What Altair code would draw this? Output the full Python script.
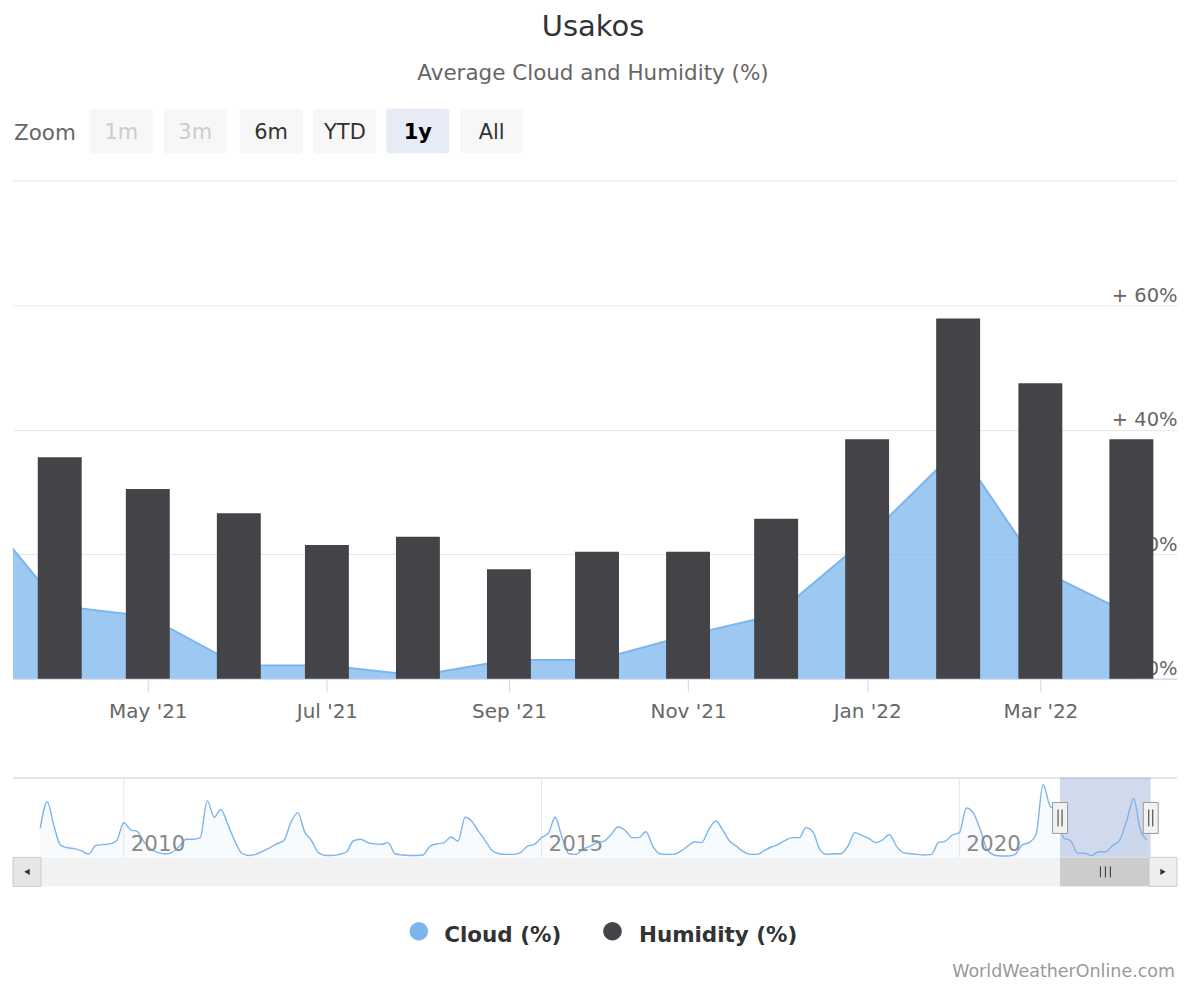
import altair as alt
import pandas as pd

# ---------------- data ----------------
first_month = "2009-01-01"
# monthly average cloud (%) Jan 2009 .. Apr 2022 (navigator + main area)
cloud_all = [
    18, 35, 20, 7, 5.5, 5, 3.5, 1.5, 7, 7.5, 8, 10,            # 2009
    21.5, 17, 16, 9, 4.5, 2.5, 1.5, 2.5, 6.5, 11, 11, 12,       # 2010
    35.5, 25, 30, 20.5, 10, 2, 0.6, 1.3, 3.4, 5.5, 8, 10,       # 2011
    21.5, 28, 16, 10, 2.4, 0.6, 0.6, 1.3, 3, 10, 11, 9,         # 2012
    8, 7.7, 8.8, 1.7, 0.9, 0.6, 0.6, 0.9, 6.6, 8, 8.8, 12.4,    # 2013
    9.8, 25, 22.6, 16, 9.8, 3.4, 1.7, 1.3, 1.3, 2.4, 6.6, 7.7,  # 2014
    12, 15, 25, 12, 1.7, 1.3, 4.5, 6.6, 8.8, 9.8, 14, 18.8,     # 2015
    16.7, 12, 12, 15.8, 6.6, 1.7, 1.3, 1.3, 3.4, 6.6, 9.4, 8.8, # 2016
    17.3, 22.6, 17.3, 10, 6.6, 3, 1.3, 1.3, 3.8, 6, 7.7, 10.3,  # 2017
    12, 12, 18.4, 15.8, 4.5, 1.3, 1.7, 1.7, 6.6, 15.2, 13.5, 11.5,  # 2018
    8.8, 10.7, 14, 6.6, 2.4, 1.7, 1.3, 0.9, 1.3, 8.8, 9.8, 13.7,    # 2019
    15.2, 31, 28, 17.3, 4.5, 0.9, 0.2, 0.2, 1.3, 7.3, 8.8, 14,      # 2020
    46, 32, 29.5, 11.7, 10, 2.1, 2.1, 0.5, 3, 3, 7, 10.3,           # 2021
    22.6, 37, 17.5, 10.3,                                           # 2022
]
humidity_months = ["2021-04-01", "2021-05-01", "2021-06-01", "2021-07-01",
                   "2021-08-01", "2021-09-01", "2021-10-01", "2021-11-01",
                   "2021-12-01", "2022-01-01", "2022-02-01", "2022-03-01",
                   "2022-04-01"]
humidity = [35.6, 30.5, 26.6, 21.5, 22.8, 17.6, 20.4, 20.4, 25.7, 38.5, 57.9, 47.5, 38.5]

main_first_month = "2021-03-01"
main_range = ["2021-03-16T02:00:00", "2022-04-16T13:00:00"]
nav_range = ["2008-09-04T00:00:00", "2022-08-09T05:00:00"]
x_tick_months = ["2021-05-01", "2021-07-01", "2021-09-01", "2021-11-01", "2022-01-01", "2022-03-01"]
y_ticks = [0, 20, 40, 60, 80]
nav_years = ["2010", "2015", "2020"]
zoom_buttons = ["1m", "3m", "6m", "YTD", "1y", "All"]
zoom_states = ["disabled", "disabled", "normal", "normal", "selected", "normal"]
legend_labels = ["Cloud (%)", "Humidity (%)"]
legend_colors = ["#7cb5ec", "#434348"]

# ---------------- helpers / layout ----------------
W, H = 1166, 971
FONT = "DejaVu Sans"


def ms(s):
    return int(pd.Timestamp(s).value // 10**6)


months_all = pd.date_range(first_month, periods=len(cloud_all), freq="MS")
cloud_df = pd.DataFrame({"t": [ms(d) for d in months_all], "cloud": cloud_all})
main_cloud_df = cloud_df[cloud_df["t"] >= ms(main_first_month)].reset_index(drop=True)
hum_df = pd.DataFrame({"t": [ms(m) for m in humidity_months], "humidity": humidity})
range_df = pd.DataFrame({"t0": [ms(main_range[0])], "t1": [ms(main_range[1])]})
edges_df = pd.DataFrame({"t": [ms(main_range[0]), ms(main_range[1])]})
mid_df = pd.DataFrame({"t": [(ms(main_range[0]) + ms(main_range[1])) // 2]})
years_df = pd.DataFrame({"t": [ms(y + "-01-01") for y in nav_years], "label": nav_years})
one = pd.DataFrame({"a": [0]})

main_x = alt.Scale(type="utc", domain=[ms(main_range[0]), ms(main_range[1])], range=[0, W],
                   nice=False, padding=0)
main_y = alt.Scale(domain=[0, 80], range=[671, 172.4], nice=False)
nav_x = alt.Scale(type="utc", domain=[ms(nav_range[0]), ms(nav_range[1])], range=[0, W],
                  nice=False, padding=0)
nav_y = alt.Scale(domain=[0, 46], range=[849, 777], nice=False)

layers = []

# title / subtitle
layers.append(alt.Chart(one).mark_text(text="Usakos", font=FONT, fontSize=29, color="#333333",
                                       align="center", baseline="alphabetic")
              .encode(x=alt.value(581), y=alt.value(27)))
layers.append(alt.Chart(one).mark_text(text="Average Cloud and Humidity (%)", font=FONT, fontSize=21.5,
                                       color="#666666", align="center", baseline="alphabetic")
              .encode(x=alt.value(581), y=alt.value(71)))

# range selector
layers.append(alt.Chart(one).mark_text(text="Zoom", font=FONT, fontSize=21.5, color="#666666",
                                       align="left", baseline="alphabetic")
              .encode(x=alt.value(1), y=alt.value(131)))
btn_left = [77, 151, 227, 301, 374, 448]
fills = {"disabled": "#f7f7f7", "normal": "#f7f7f7", "selected": "#e6ebf5"}
tcols = {"disabled": "#cccccc", "normal": "#333333", "selected": "#000000"}
btn_df = pd.DataFrame({
    "label": zoom_buttons,
    "state": zoom_states,
    "bx": btn_left,
    "bx2": [b + 63 for b in btn_left],
    "bc": [b + 31.5 for b in btn_left],
    "fill": [fills[s] for s in zoom_states],
    "tcol": [tcols[s] for s in zoom_states],
})
layers.append(alt.Chart(btn_df).mark_rect(cornerRadius=3)
              .encode(x=alt.X("bx:Q", scale=None), x2="bx2:Q",
                      y=alt.value(100), y2=alt.value(145),
                      fill=alt.Fill("fill:N", scale=None)))
layers.append(alt.Chart(btn_df).transform_filter("datum.state != 'selected'")
              .mark_text(font=FONT, fontSize=21, align="center", baseline="alphabetic")
              .encode(x=alt.X("bc:Q", scale=None), y=alt.value(130), text="label:N",
                      color=alt.Color("tcol:N", scale=None)))
layers.append(alt.Chart(btn_df).transform_filter("datum.state == 'selected'")
              .mark_text(font=FONT, fontSize=21, fontWeight="bold", align="center", baseline="alphabetic")
              .encode(x=alt.X("bc:Q", scale=None), y=alt.value(130), text="label:N",
                      color=alt.Color("tcol:N", scale=None)))

# main chart
x_axis = alt.Axis(orient="bottom", offset=-300, values=[ms(m) for m in x_tick_months],
                  labelExpr="utcFormat(datum.value, \"%b '%y\")", title=None, grid=False,
                  tickSize=13, tickColor="#ccd6eb", domainColor="#ccd6eb",
                  labelPadding=10, labelBaseline="top", labelFont=FONT, labelFontSize=20,
                  labelColor="#666666")
y_axis = alt.Axis(orient="right", values=y_ticks, title=None, grid=True, gridColor="#e6e6e6",
                  domain=False, ticks=False, tickSize=0, labelPadding=0, labelAlign="right",
                  labelBaseline="alphabetic", labelOffset=-4, labelFont=FONT, labelFontSize=19.5,
                  labelColor="#666666",
                  labelExpr="datum.value >= 80 ? '' : (datum.value > 0 ? '+ ' + datum.value + '%' : datum.value + '%')")

layers.append(alt.Chart(main_cloud_df).mark_area(color="#7cb5ec", fillOpacity=0.75, clip=True)
              .encode(x=alt.X("t:T", scale=main_x, axis=None), y=alt.Y("cloud:Q", scale=main_y, axis=None)))
layers.append(alt.Chart(main_cloud_df).mark_line(color="#7cb5ec", strokeWidth=2, clip=True)
              .encode(x=alt.X("t:T", scale=main_x, axis=None), y=alt.Y("cloud:Q", scale=main_y, axis=None)))
layers.append(alt.Chart(hum_df).mark_bar(color="#434348", size=44, clip=True)
              .encode(x=alt.X("t:T", scale=main_x, axis=x_axis),
                      y=alt.Y("humidity:Q", scale=main_y, axis=y_axis)))

# navigator
layers.append(alt.Chart(one).mark_rule(color="#cccccc", strokeWidth=1)
              .encode(x=alt.value(0), x2=alt.value(W), y=alt.value(770.5)))
layers.append(alt.Chart(years_df).mark_rule(color="#e6e6e6", strokeWidth=1)
              .encode(x=alt.X("t:T", scale=nav_x, axis=None), y=alt.value(771), y2=alt.value(850)))
layers.append(alt.Chart(range_df).mark_rect(fill="#6685c2", fillOpacity=0.3)
              .encode(x=alt.X("t0:T", scale=nav_x, axis=None), x2="t1:T",
                      y=alt.value(770), y2=alt.value(850)))
layers.append(alt.Chart(cloud_df).mark_area(color="#7cb5ec", fillOpacity=0.05, interpolate="monotone")
              .encode(x=alt.X("t:T", scale=nav_x, axis=None), y=alt.Y("cloud:Q", scale=nav_y, axis=None)))
layers.append(alt.Chart(cloud_df).mark_line(color="#7cb5ec", strokeWidth=1.4, interpolate="monotone")
              .encode(x=alt.X("t:T", scale=nav_x, axis=None), y=alt.Y("cloud:Q", scale=nav_y, axis=None)))
layers.append(alt.Chart(years_df).mark_text(font=FONT, fontSize=21.5, color="#8a8a8a", align="left",
                                            baseline="alphabetic", dx=7)
              .encode(x=alt.X("t:T", scale=nav_x, axis=None), y=alt.value(844), text="label:N"))
# handles
layers.append(alt.Chart(edges_df).mark_rect(fill="#f2f2f2", stroke="#999999", strokeWidth=1,
                                            xOffset=-7.5, x2Offset=7.5)
              .encode(x=alt.X("t:T", scale=nav_x, axis=None), x2="t:T",
                      y=alt.value(795), y2=alt.value(826)))
for off in (-2, 2):
    layers.append(alt.Chart(edges_df).mark_rule(color="#333333", strokeWidth=1, xOffset=off)
                  .encode(x=alt.X("t:T", scale=nav_x, axis=None), y=alt.value(802), y2=alt.value(819)))

# scrollbar
layers.append(alt.Chart(one).mark_rect(fill="#f2f2f2")
              .encode(x=alt.value(0), x2=alt.value(W), y=alt.value(850), y2=alt.value(879)))
layers.append(alt.Chart(range_df).mark_rect(fill="#cccccc")
              .encode(x=alt.X("t0:T", scale=nav_x, axis=None), x2="t1:T",
                      y=alt.value(850), y2=alt.value(879)))
for off in (-5, 0, 5):
    layers.append(alt.Chart(mid_df).mark_rule(color="#333333", strokeWidth=1, xOffset=off)
                  .encode(x=alt.X("t:T", scale=nav_x, axis=None), y=alt.value(859), y2=alt.value(870)))
layers.append(alt.Chart(one).mark_rect(fill="#e6e6e6", stroke="#cccccc", strokeWidth=1)
              .encode(x=alt.value(0), x2=alt.value(28), y=alt.value(850), y2=alt.value(879)))
layers.append(alt.Chart(one).mark_rect(fill="#eeeeee", stroke="#cccccc", strokeWidth=1)
              .encode(x=alt.value(W - 28), x2=alt.value(W), y=alt.value(850), y2=alt.value(879)))
layers.append(alt.Chart(one).mark_point(shape="triangle-left", filled=True, color="#333333", size=40, opacity=1)
              .encode(x=alt.value(14), y=alt.value(864.5)))
layers.append(alt.Chart(one).mark_point(shape="triangle-right", filled=True, color="#333333", size=40, opacity=1)
              .encode(x=alt.value(W - 14), y=alt.value(864.5)))

# legend
legend_df = pd.DataFrame({"label": legend_labels, "color": legend_colors,
                          "sx": [406.5, 600.5], "tx": [432, 627]})
layers.append(alt.Chart(legend_df).mark_point(filled=True, shape="circle", size=346, opacity=1)
              .encode(x=alt.X("sx:Q", scale=None), y=alt.value(924),
                      color=alt.Color("color:N", scale=None)))
layers.append(alt.Chart(legend_df).mark_text(font=FONT, fontSize=21.5, fontWeight="bold", color="#333333",
                                             align="left", baseline="alphabetic")
              .encode(x=alt.X("tx:Q", scale=None), y=alt.value(935), text="label:N"))

# credits
layers.append(alt.Chart(one).mark_text(text="WorldWeatherOnline.com", font=FONT, fontSize=17.5, color="#999999",
                                       align="right", baseline="alphabetic")
              .encode(x=alt.value(1164), y=alt.value(970)))

chart = (alt.layer(*layers)
         .resolve_scale(x="independent", y="independent", color="independent", fill="independent")
         .properties(width=W, height=H, padding={"left": 4, "top": 0, "right": 0, "bottom": 0},
                     background="white")
         .configure_view(strokeWidth=0))

chart.save("out.html", embed_options={"renderer": "svg", "actions": False})
